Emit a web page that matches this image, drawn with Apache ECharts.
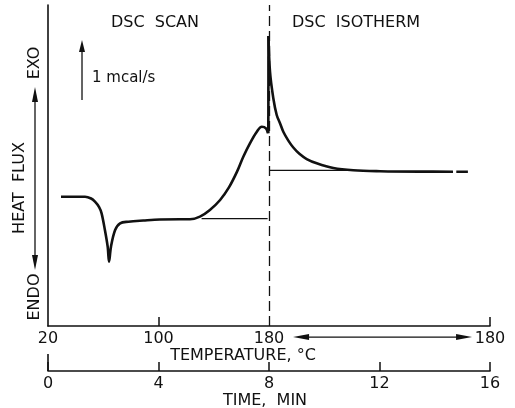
<!DOCTYPE html>
<html>
<head>
<meta charset="utf-8">
<script src="https://cdn.jsdelivr.net/npm/echarts@6/dist/echarts.min.js"></script>
<style>
html,body{margin:0;padding:0;background:#fff;}
#chart{width:515px;height:408px;}
</style>
</head>
<body>
<div id="chart"></div>
<script>
// ---- data (time in min, heat flux in mcal/s, arbitrary offset) ----
const timeTicks = [0, 4, 8, 12, 16];
const tempTickTimes = [0, 4, 8, 16];
const tempTickLabels = ['20', '100', '180', '180'];

const scanTime = [0.47, 0.98, 1.34, 1.56, 1.70, 1.85, 1.94, 2.06, 2.16, 2.21, 2.28, 2.43, 2.61, 2.91, 3.45, 4.05, 4.78, 5.14, 5.50, 5.86, 6.23, 6.55, 6.83, 7.07, 7.31, 7.56, 7.74, 7.89, 7.96];
const scanFlux = [2.155, 2.155, 2.155, 2.125, 2.072, 1.983, 1.878, 1.600, 1.322, 1.072, 1.322, 1.600, 1.712, 1.738, 1.758, 1.775, 1.778, 1.778, 1.822, 1.933, 2.100, 2.310, 2.560, 2.822, 3.045, 3.238, 3.322, 3.295, 3.212];

const jumpTime = [7.975, 7.982];
const jumpFlux = [3.212, 4.833];

const isoTime = [7.982, 8.036, 8.156, 8.279, 8.398, 8.518, 8.700, 8.880, 9.100, 9.365, 9.727, 10.328, 11.052, 12.018, 13.466, 14.66, 14.78, 15.20];
const isoFlux = [4.833, 4.238, 3.795, 3.517, 3.380, 3.238, 3.090, 2.975, 2.870, 2.783, 2.712, 2.633, 2.595, 2.580, 2.573, 2.572, 2.572, 2.572];

const scanBaseTime = [5.56, 7.95];
const scanBaseFlux = [1.788, 1.788];
const isoBaseTime = [8.0, 10.9];
const isoBaseFlux = [2.593, 2.593];

const switchTime = 8;
const scaleBarTime = [1.231, 1.231];
const scaleBarFlux = [3.767, 4.667];
const tempArrowTime = [9.16, 15.06];
const tempArrowFlux = [-0.185, -0.185];

const zip = (a, b) => a.map((v, i) => [v, b[i]]);
const INK = '#111';
const FONT = '"DejaVu Sans", sans-serif';

const chart = echarts.init(document.getElementById('chart'), null, {renderer: 'canvas'});

const isoData = zip(isoTime, isoFlux);
isoData.splice(16, 0, '-');

const option = {
  backgroundColor: '#fff',
  animation: false,
  textStyle: {fontFamily: FONT, color: INK},
  grid: {left: 48, right: 25, top: 5, bottom: 82, outerBoundsMode: 'none'},
  xAxis: [
    {
      type: 'value', min: 0, max: 16, position: 'bottom',
      axisLine: {lineStyle: {color: INK, width: 1.6}},
      axisTick: {show: true, inside: true, length: 9, customValues: [4, 16], lineStyle: {color: INK, width: 1.5}},
      axisLabel: {
        customValues: tempTickTimes, margin: 5, fontSize: 16, color: INK, fontFamily: FONT,
        formatter: (v) => tempTickLabels[tempTickTimes.indexOf(v)]
      },
      splitLine: {show: false},
      name: 'TEMPERATURE, °C', nameLocation: 'middle', nameGap: 22, nameMoveOverlap: false,
      nameTextStyle: {fontSize: 16, color: INK, fontFamily: FONT, padding: [0, 52, 0, 0]}
    },
    {
      type: 'value', min: 0, max: 16, position: 'bottom', offset: 45,
      axisLine: {lineStyle: {color: INK, width: 1.6}},
      axisTick: {show: true, inside: true, length: 9, customValues: timeTicks, lineStyle: {color: INK, width: 1.5}},
      axisLabel: {customValues: timeTicks, margin: 5, fontSize: 16, color: INK, fontFamily: FONT},
      splitLine: {show: false},
      name: 'TIME,  MIN', nameLocation: 'middle', nameGap: 22, nameMoveOverlap: false,
      nameTextStyle: {fontSize: 16, color: INK, fontFamily: FONT, padding: [0, 8, 0, 0]}
    }
  ],
  yAxis: {
    type: 'value', min: 0, max: 5.35,
    axisLine: {show: true, lineStyle: {color: INK, width: 1.6}},
    axisTick: {show: false}, axisLabel: {show: false}, splitLine: {show: false}
  },
  series: [
    {
      type: 'line', name: 'scan', data: zip(scanTime, scanFlux), smooth: 0.35,
      symbol: 'none', lineStyle: {color: INK, width: 2.6},
      markLine: {
        silent: true, symbol: 'none', label: {show: false},
        lineStyle: {color: INK, width: 1.3, type: [10, 5]},
        data: [{xAxis: switchTime}]
      }
    },
    {
      type: 'line', name: 'jump', data: zip(jumpTime, jumpFlux), smooth: false,
      symbol: 'none', lineStyle: {color: INK, width: 2.6}
    },
    {
      type: 'line', name: 'isotherm', data: isoData, smooth: 0.35,
      symbol: 'none', lineStyle: {color: INK, width: 2.6}
    },
    {
      type: 'line', data: zip(scanBaseTime, scanBaseFlux), symbol: 'none',
      lineStyle: {color: INK, width: 1.2}
    },
    {
      type: 'line', data: zip(isoBaseTime, isoBaseFlux), symbol: 'none',
      lineStyle: {color: INK, width: 1.4}
    },
    {
      type: 'line', clip: false,
      data: [
        {value: [scaleBarTime[0], scaleBarFlux[0]], symbol: 'none'},
        {value: [scaleBarTime[1], scaleBarFlux[1]], symbol: 'triangle', symbolSize: [6, 12]}
      ],
      lineStyle: {color: INK, width: 1.3}, itemStyle: {color: INK}
    },
    {
      type: 'line', clip: false,
      data: [
        {value: [tempArrowTime[0], tempArrowFlux[0]], symbol: 'triangle', symbolSize: [6, 16], symbolRotate: 90},
        {value: [tempArrowTime[1], tempArrowFlux[1]], symbol: 'triangle', symbolSize: [6, 16], symbolRotate: -90}
      ],
      lineStyle: {color: INK, width: 1.3}, itemStyle: {color: INK}
    }
  ],
  graphic: [
    {type: 'text', x: 155, y: 23, style: {text: 'DSC  SCAN', font: '16px ' + FONT, fill: INK, textAlign: 'center', textVerticalAlign: 'middle'}},
    {type: 'text', x: 356, y: 23, style: {text: 'DSC  ISOTHERM', font: '16px ' + FONT, fill: INK, textAlign: 'center', textVerticalAlign: 'middle'}},
    {type: 'text', x: 92, y: 78, style: {text: '1 mcal/s', font: '15px ' + FONT, fill: INK, textAlign: 'left', textVerticalAlign: 'middle'}},
    {type: 'text', x: 35, y: 63, rotation: Math.PI / 2, style: {text: 'EXO', font: '16px ' + FONT, fill: INK, textAlign: 'center', textVerticalAlign: 'middle'}},
    {type: 'text', x: 35, y: 297, rotation: Math.PI / 2, style: {text: 'ENDO', font: '16px ' + FONT, fill: INK, textAlign: 'center', textVerticalAlign: 'middle'}},
    {type: 'text', x: 20, y: 188, rotation: Math.PI / 2, style: {text: 'HEAT  FLUX', font: '16px ' + FONT, fill: INK, textAlign: 'center', textVerticalAlign: 'middle'}},
    {type: 'line', shape: {x1: 35, y1: 98, x2: 35, y2: 260}, style: {stroke: INK, lineWidth: 1.3}},
    {type: 'polygon', shape: {points: [[35, 87], [32, 102], [38, 102]]}, style: {fill: INK}},
    {type: 'polygon', shape: {points: [[35, 270], [32, 255], [38, 255]]}, style: {fill: INK}},
    {type: 'line', shape: {x1: 48, y1: 354, x2: 48, y2: 371}, style: {stroke: INK, lineWidth: 1.6}}
  ]
};
chart.setOption(option);
</script>
</body>
</html>
